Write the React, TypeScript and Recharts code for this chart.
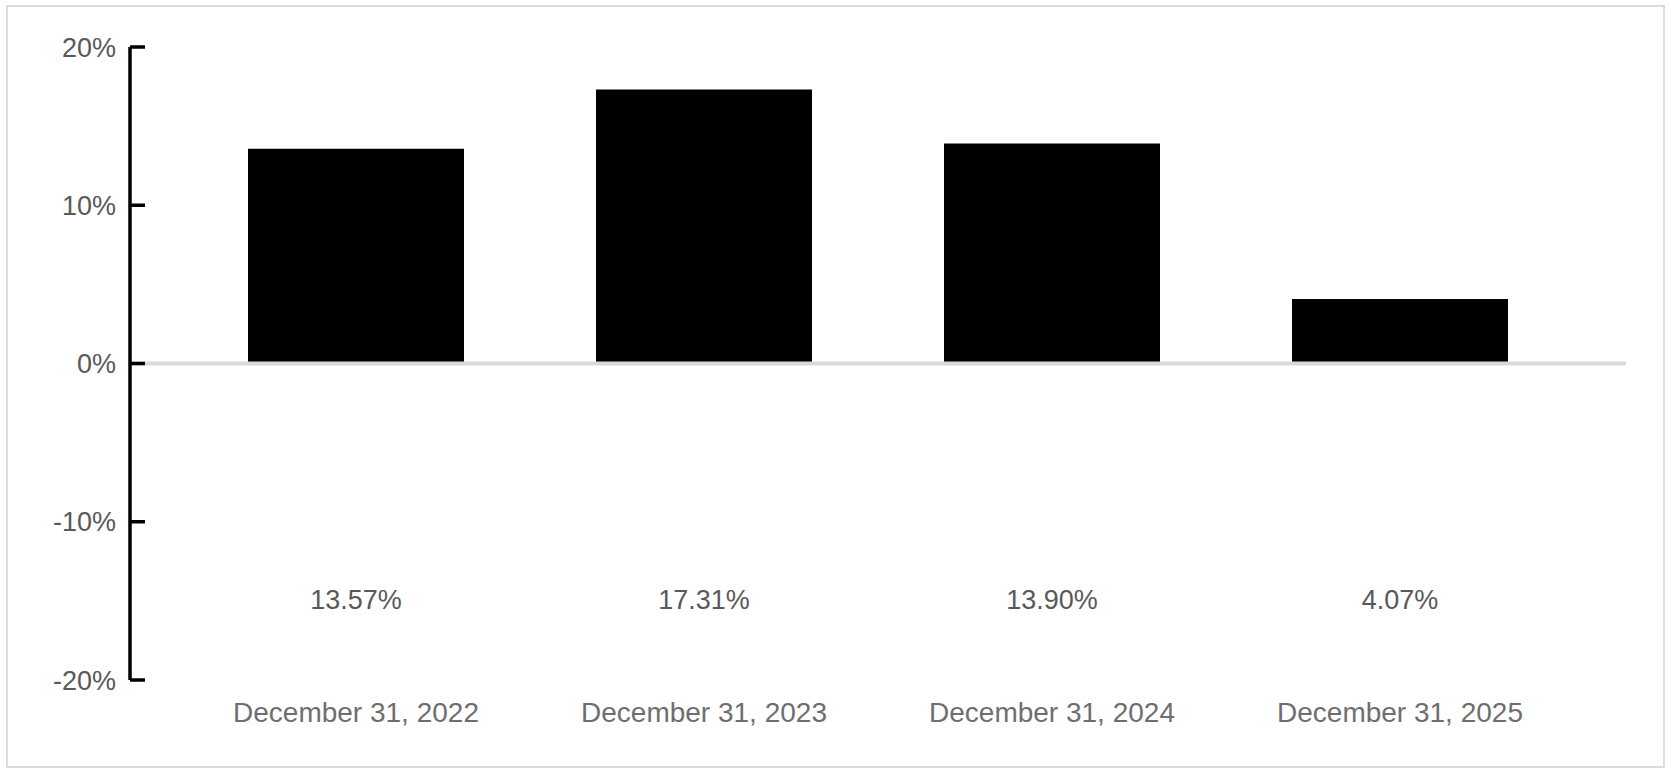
import React from 'react';
import { BarChart, Bar, XAxis, YAxis, ReferenceLine } from 'recharts';

const categories = ['December 31, 2022', 'December 31, 2023', 'December 31, 2024', 'December 31, 2025'];
const values = [13.57, 17.31, 13.9, 4.07];
const valueLabels = ['13.57%', '17.31%', '13.90%', '4.07%'];
const yTicks = [-20, -10, 0, 10, 20];

const data = categories.map((c, i) => ({ name: c, value: values[i], label: valueLabels[i] }));

const FONT = '"Liberation Sans", Arial, sans-serif';

const YTick = (props: any) => {
  const { x, y, payload } = props;
  return (
    <g>
      <line x1={x} x2={x + 15} y1={y} y2={y} stroke="#000" strokeWidth={3.5} />
      <text x={x - 14} y={y} dy="0.36em" textAnchor="end" fontSize={27} fill="#595959" fontFamily={FONT}>
        {`${payload.value}%`}
      </text>
    </g>
  );
};

const XTick = (props: any) => {
  const { x, y, payload, index } = props;
  const idx = typeof index === 'number' ? index : categories.indexOf(payload.value);
  return (
    <g>
      <text x={x} y={y - 81} dy="0.36em" textAnchor="middle" fontSize={27} fill="#595959" fontFamily={FONT}>
        {valueLabels[idx]}
      </text>
      <text x={x} y={y + 32} dy="0.36em" textAnchor="middle" fontSize={28} fill="#6e6e6e" fontFamily={FONT}>
        {payload.value}
      </text>
    </g>
  );
};

export default function App() {
  return (
    <div style={{ position: 'absolute', left: 0, top: 0, width: 1671, height: 773, background: '#fff' }}>
      <div
        style={{
          position: 'absolute',
          left: 6,
          top: 5,
          width: 1655,
          height: 759,
          border: '2px solid #dcdcdc',
        }}
      />
      <div style={{ position: 'absolute', left: 0, top: 0 }}>
        <BarChart width={1671} height={773} data={data} margin={{ top: 47, right: 45, bottom: 33, left: 0 }}>
          <XAxis
            dataKey="name"
            axisLine={false}
            tickLine={false}
            tickSize={0}
            tickMargin={0}
            height={60}
            padding={{ left: 52, right: 52 }}
            tick={<XTick />}
            interval={0}
          />
          <YAxis
            type="number"
            domain={[-20, 20]}
            ticks={yTicks}
            width={130}
            axisLine={{ stroke: '#000', strokeWidth: 3.5 }}
            tickLine={false}
            tickSize={0}
            tickMargin={0}
            tick={<YTick />}
            interval={0}
          />
          <Bar dataKey="value" fill="#000" barSize={216} isAnimationActive={false} />
          <ReferenceLine y={0} stroke="#d9d9d9" strokeWidth={4} ifOverflow="extendDomain" />
        </BarChart>
      </div>
    </div>
  );
}
